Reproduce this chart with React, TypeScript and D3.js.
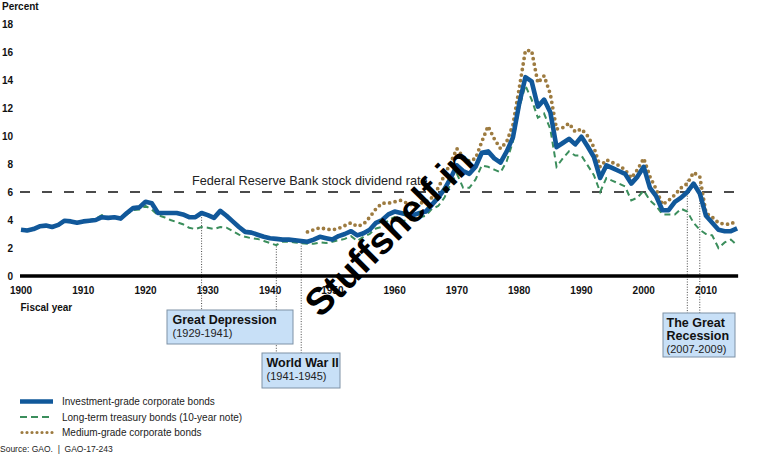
import React from "react";
import * as d3 from "d3";

// ---------- data ----------
const years = d3.range(1900, 2016);
const investmentGrade = [
  3.3, 3.25, 3.35, 3.55, 3.6, 3.5, 3.65, 3.95, 3.9, 3.8,
  3.9, 3.95, 4.0, 4.2, 4.15, 4.2, 4.1, 4.5, 4.85, 4.9,
  5.3, 5.2, 4.5, 4.5, 4.5, 4.5, 4.4, 4.2, 4.2, 4.5,
  4.35, 4.15, 4.65, 4.3, 3.9, 3.5, 3.15, 3.1, 2.95, 2.8,
  2.7, 2.65, 2.6, 2.6, 2.55, 2.5, 2.45, 2.6, 2.8, 2.7,
  2.6, 2.85, 3.0, 3.2, 2.9, 3.05, 3.3, 3.8, 4.0, 4.4,
  4.6, 4.5, 4.4, 4.35, 4.5, 4.6, 5.1, 5.6, 6.2, 7.0,
  7.9, 7.5, 7.3, 7.8, 8.8, 8.9, 8.4, 8.1, 8.9, 9.9,
  12.3, 14.2, 13.9, 12.1, 12.6, 11.7, 9.2, 9.5, 9.8, 9.4,
  9.95, 9.25, 8.5, 7.0, 7.9, 7.7, 7.5, 7.3, 6.6, 7.1,
  7.8, 6.3, 5.7, 4.7, 4.7, 5.3, 5.6, 6.0, 6.6, 5.9,
  4.3, 3.8, 3.3, 3.2, 3.2, 3.4,
];
const treasury = [
  3.25, 3.2, 3.3, 3.5, 3.55, 3.45, 3.6, 3.9, 3.85, 3.8,
  3.9, 4.0, 4.1, 4.35, 4.2, 4.2, 4.1, 4.4, 4.7, 4.75,
  5.0, 4.75, 4.35, 4.2, 4.0, 3.85, 3.7, 3.45, 3.35, 3.5,
  3.45, 3.35, 3.5, 3.45, 3.2, 2.95, 2.8, 2.7, 2.65, 2.5,
  2.35, 2.2, 2.45, 2.45, 2.4, 2.35, 2.3, 2.3, 2.4, 2.35,
  2.45, 2.55, 2.65, 2.85, 2.5, 2.8, 3.0, 3.4, 3.5, 4.0,
  4.2, 3.9, 4.0, 4.1, 4.2, 4.3, 4.8, 5.0, 5.6, 6.6,
  7.3, 6.3, 6.3, 6.9, 7.9, 7.8, 7.6, 7.4, 8.2, 9.6,
  12.0, 13.6, 12.6, 11.3, 11.6, 10.5, 7.8, 8.4, 8.9, 8.6,
  8.6, 7.9, 7.2, 6.0, 7.0, 6.8, 6.6, 6.4, 5.4, 5.6,
  6.1, 5.4, 5.0, 4.4, 4.4, 4.4, 4.8, 4.6, 3.8, 3.3,
  3.0, 2.9, 2.0, 2.4, 2.6, 2.2,
];
const mediumYears = d3.range(1946, 2016);
const mediumGrade = [
  3.15, 3.3, 3.45, 3.35,
  3.3, 3.4, 3.6, 3.8, 3.55, 3.7, 4.2, 4.8, 5.2, 5.2,
  5.3, 5.4, 5.2, 5.05, 5.2, 5.3, 5.6, 6.3, 7.2, 8.1,
  9.1, 8.5, 8.2, 8.4, 9.6, 10.7, 9.8, 9.1, 9.6, 10.8,
  13.4, 16.1, 16.1, 13.8, 14.3, 13.0, 10.5, 10.6, 10.9, 10.3,
  10.5, 10.0, 9.2, 7.8, 8.3, 8.1, 7.9, 7.6, 7.0, 7.6,
  8.4, 7.1, 6.2, 5.1, 5.4, 5.8, 6.3, 6.6, 7.4, 7.1,
  4.5, 4.2, 3.8, 3.7, 3.7, 4.0,
];
const fedDividendRate = 6;
const yTicks = [0, 2, 4, 6, 8, 10, 12, 14, 16, 18];
const xTicks = [1900, 1910, 1920, 1930, 1940, 1950, 1960, 1970, 1980, 1990, 2000, 2010];
const eventYears = [1929, 1941, 1945, 2007, 2009];
const eventTops = [4.2, 2.3, 2.35, 6.85, 6.7];
const seriesNames = [
  "Investment-grade corporate bonds",
  "Long-term treasury bonds (10-year note)",
  "Medium-grade corporate bonds",
];

// ---------- styles ----------
const FONT = "'Liberation Sans', Arial, Helvetica, sans-serif";
const BLUE = "#11589a";
const GREEN = "#3b8e5c";
const BROWN = "#9d7b40";
const BOX_FILL = "#c8e0f7";
const BOX_STROKE = "#7e92a6";

export default function App() {
  const x = d3.scaleLinear().domain([1900, 2010]).range([21, 706]);
  const y = d3.scaleLinear().domain([0, 18]).range([276, 24]);

  const line = d3
    .line<[number, number]>()
    .x((d) => x(d[0]))
    .y((d) => y(d[1]));

  const bluePath = line(years.map((yr, i) => [yr, investmentGrade[i]]))!;
  const greenPath = line(years.map((yr, i) => [yr, treasury[i]]))!;
  const brownPath = line(mediumYears.map((yr, i) => [yr, mediumGrade[i]]))!;

  const xEnd = x(2015) + 1;

  // annotation box tops per event
  const eventBottoms = [310, 353, 353, 313, 313];

  return (
    <svg
      width={768}
      height={463}
      style={{ position: "absolute", left: 0, top: 0, background: "#fff" }}
      fontFamily={FONT}
    >
      <rect x={0} y={0} width={768} height={463} fill="#fff" />

      {/* Percent label */}
      <text x={2} y={10} fontSize={10} fontWeight="bold" fill="#111">
        Percent
      </text>

      {/* y tick labels */}
      {yTicks.map((t) => (
        <text
          key={t}
          x={13}
          y={y(t) + 3.6}
          fontSize={10}
          fontWeight="bold"
          textAnchor="end"
          fill="#111"
        >
          {t}
        </text>
      ))}

      {/* x tick labels */}
      {xTicks.map((t) => (
        <text
          key={t}
          x={x(t)}
          y={294}
          fontSize={10}
          fontWeight="bold"
          textAnchor="middle"
          fill="#111"
        >
          {t}
        </text>
      ))}
      <text x={20.5} y={311} fontSize={10} fontWeight="bold" fill="#111">
        Fiscal year
      </text>

      {/* event dotted lines */}
      {eventYears.map((yr, i) => (
        <line
          key={yr}
          x1={x(yr)}
          x2={x(yr)}
          y1={y(eventTops[i])}
          y2={eventBottoms[i]}
          stroke="#333"
          strokeWidth={0.9}
          strokeDasharray="1,1.6"
        />
      ))}

      {/* Fed reserve dividend rate */}
      <line
        x1={20}
        x2={xEnd}
        y1={y(fedDividendRate)}
        y2={y(fedDividendRate)}
        stroke="#111"
        strokeWidth={1.4}
        strokeDasharray="10,12"
      />
      <text x={192} y={185} fontSize={12.7} fill="#222">
        Federal Reserve Bank stock dividend rate
      </text>

      {/* series */}
      <path
        d={brownPath}
        fill="none"
        stroke={BROWN}
        strokeWidth={3.8}
        strokeLinecap="round"
        strokeDasharray="0,5.6"
      />
      <path
        d={greenPath}
        fill="none"
        stroke={GREEN}
        strokeWidth={2}
        strokeDasharray="6,4"
      />
      <path
        d={bluePath}
        fill="none"
        stroke={BLUE}
        strokeWidth={4.6}
        strokeLinejoin="round"
      />

      {/* zero axis */}
      <line x1={20} x2={xEnd} y1={y(0)} y2={y(0)} stroke="#000" strokeWidth={3.5} />

      {/* annotation boxes */}
      <g>
        <rect x={167} y={310} width={126} height={34} fill={BOX_FILL} stroke={BOX_STROKE} strokeWidth={1} />
        <text x={172.5} y={324} fontSize={12.5} fontWeight="bold" fill="#111">
          Great Depression
        </text>
        <text x={172.5} y={337} fontSize={11} fill="#222">
          (1929-1941)
        </text>

        <rect x={262} y={353} width={78} height={35} fill={BOX_FILL} stroke={BOX_STROKE} strokeWidth={1} />
        <text x={266.5} y={367} fontSize={12.5} fontWeight="bold" fill="#111">
          World War II
        </text>
        <text x={266.5} y={380} fontSize={11} fill="#222">
          (1941-1945)
        </text>

        <rect x={663} y={313} width={72} height={44} fill={BOX_FILL} stroke={BOX_STROKE} strokeWidth={1} />
        <text x={666.5} y={326.5} fontSize={12.5} fontWeight="bold" fill="#111">
          The Great
        </text>
        <text x={666.5} y={340} fontSize={12.5} fontWeight="bold" fill="#111">
          Recession
        </text>
        <text x={666.5} y={353} fontSize={11} fill="#222">
          (2007-2009)
        </text>
      </g>

      {/* legend */}
      <g>
        <line x1={20} x2={53} y1={401.5} y2={401.5} stroke={BLUE} strokeWidth={4.6} />
        <line x1={20} x2={53} y1={417} y2={417} stroke={GREEN} strokeWidth={2.2} strokeDasharray="7,4" />
        <line
          x1={22}
          x2={53}
          y1={432.5}
          y2={432.5}
          stroke={BROWN}
          strokeWidth={3.2}
          strokeLinecap="round"
          strokeDasharray="0,5"
        />
        {seriesNames.map((n, i) => (
          <text key={n} x={62} y={405 + i * 15.5} fontSize={10} fill="#222">
            {n}
          </text>
        ))}
      </g>

      <text x={0} y={452} fontSize={8.5} fill="#222">
        {"Source: GAO.\u00a0\u00a0|\u00a0\u00a0GAO-17-243"}
      </text>

      {/* watermark */}
      <text
        x={389}
        y={232}
        fontSize={38}
        fontWeight="bold"
        textAnchor="middle"
        dominantBaseline="central"
        fill="#000"
        transform="rotate(-45 389 232)"
      >
        Stuffshelf.in
      </text>
    </svg>
  );
}
